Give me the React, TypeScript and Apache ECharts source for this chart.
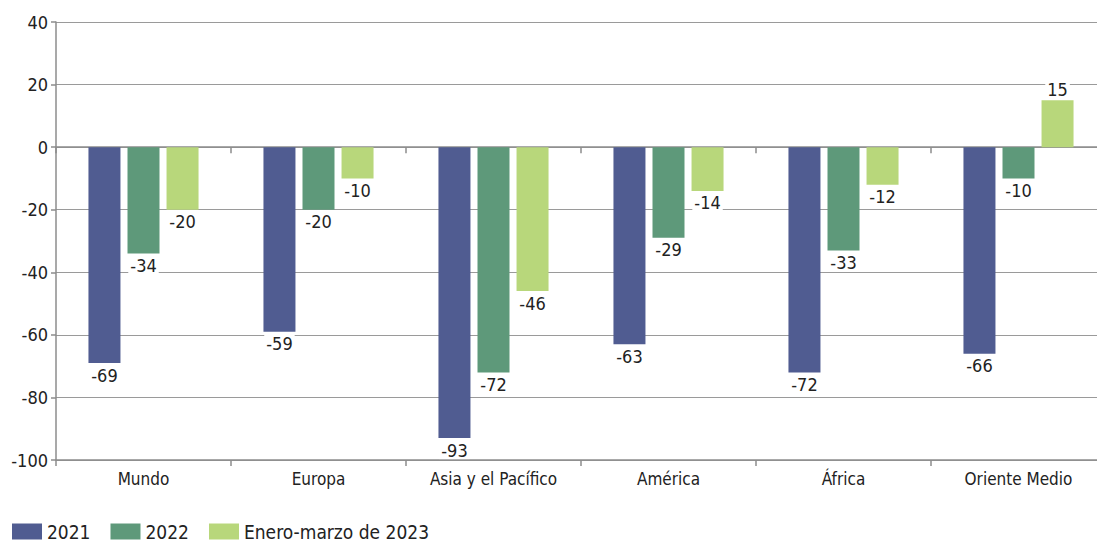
import React, { useEffect, useRef } from "react";
import * as echarts from "echarts";

const categories = ["Mundo", "Europa", "Asia y el Pacífico", "América", "África", "Oriente Medio"];
const seriesNames = ["2021", "2022", "Enero-marzo de 2023"];
const values2021 = [-69, -59, -93, -63, -72, -66];
const values2022 = [-34, -20, -72, -29, -33, -10];
const values2023 = [-20, -10, -46, -14, -12, 15];
const colors = ["#505c91", "#5e997a", "#b8d77b"];

const FONT = "'Liberation Sans Narrow', 'DejaVu Sans Condensed', 'Roboto Condensed', Roboto, sans-serif";

export default function App() {
  const ref = useRef<HTMLDivElement>(null);
  useEffect(() => {
    document.body.style.margin = "0";
    document.body.style.overflow = "hidden";
    const chart = echarts.init(ref.current!, null, { renderer: "svg" });
    const mk = (name: string, data: number[], i: number) => ({
      name,
      type: "bar",
      xAxisIndex: 0,
      data,
      barWidth: 32,
      barGap: "22%",
      itemStyle: { color: colors[i] },
      label: {
        show: true,
        position: "outside",
        formatter: (p: any) => String(p.value),
        color: "#222",
        fontSize: 18,
        fontFamily: FONT,
        backgroundColor: "#fff",
        padding: [1, 2, 0, 2],
        distance: 2,
      },
    });
    const option: any = {
      animation: false,
      textStyle: { fontFamily: FONT },
      grid: { left: 56, top: 22, width: 1050, height: 438, containLabel: false },
      legend: {
        left: 12,
        top: 522,
        padding: 0,
        itemWidth: 30,
        itemHeight: 16,
        itemGap: 20,
        icon: "rect",
        textStyle: { fontSize: 19, color: "#222", fontFamily: FONT },
        data: seriesNames,
      },
      xAxis: [
        {
          type: "category",
          data: categories,
          position: "bottom",
          axisLine: { onZero: false, lineStyle: { color: "#8c8c8c", width: 1.5 } },
          axisTick: { show: true, length: 6, lineStyle: { color: "#8c8c8c", width: 1.5 } },
          axisLabel: { fontSize: 17, color: "#222", fontFamily: FONT, margin: 10 },
        },
        {
          type: "category",
          data: categories,
          position: "bottom",
          axisLine: { onZero: true, lineStyle: { color: "#8c8c8c", width: 1.5 } },
          axisTick: { show: true, length: 6, lineStyle: { color: "#8c8c8c", width: 1.5 } },
          axisLabel: { show: false },
        },
      ],
      yAxis: {
        type: "value",
        min: -100,
        max: 40,
        interval: 20,
        axisLine: { show: true, lineStyle: { color: "#8c8c8c", width: 1.5 } },
        axisTick: { show: true, length: 5, lineStyle: { color: "#8c8c8c", width: 1.5 } },
        axisLabel: { fontSize: 18, color: "#222", fontFamily: FONT, margin: 8 },
        splitLine: { show: true, lineStyle: { color: "#9a9a9a", width: 1 } },
      },
      series: [
        mk(seriesNames[0], values2021, 0),
        mk(seriesNames[1], values2022, 1),
        mk(seriesNames[2], values2023, 2),
      ],
    };
    chart.setOption(option);
    return () => chart.dispose();
  }, []);
  return <div ref={ref} style={{ width: 1110, height: 542 }} />;
}
